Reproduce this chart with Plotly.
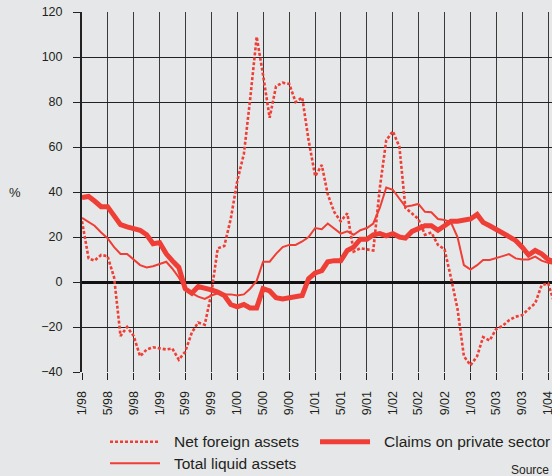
import pandas as pd
import plotly.graph_objects as go

# Monthly data, January 1998 onwards (%)
months = pd.date_range("1998-01-01", periods=74, freq="MS")

net_foreign_assets = [
    27, 10.5, 9.5, 12, 11.5, 2, -24, -20, -24, -33,
    -30, -29, -29.5, -30, -29.5, -34.5, -31, -22.5, -18, -19,
    -5, 15, 16, 28, 45, 57, 81, 109, 92, 73,
    87, 88.6, 88, 80, 82, 63, 47, 52, 39, 31,
    27, 30.5, 13.5, 15, 14.5, 14, 42, 63, 67, 60,
    33, 30.5, 28, 21, 22, 16.5, 14.5, 2, -12, -33,
    -37, -33, -24.5, -26, -21, -19.5, -17, -15.4, -14.7, -12,
    -9.5, -1.5, -0.6, -10,
]

total_liquid_assets = [
    28.5, 26.5, 25, 22, 19.5, 15.5, 12.5, 12.5, 10, 7.5,
    6.5, 7, 8, 9, 6, 2, -3, -5, -6.5, -7.5,
    -6, -5, -5.5, -5.5, -6, -5.5, -3, 0.5, 9, 9,
    12.5, 15.5, 16.5, 16.5, 18, 20, 24, 23.5, 26, 23.5,
    21.5, 22.5, 21, 23, 24, 26, 33, 42, 41, 37,
    33.5, 34, 34.7, 31.2, 31, 28, 27.6, 26.5, 20, 7.5,
    5.5, 7.5, 9.8, 9.8, 10.5, 11.5, 12.4, 10.5, 10, 10,
    11.3, 9.5, 8.5, 8,
]

claims_private_sector = [
    37.5, 38, 36, 33.5, 33.5, 29, 25.5, 24.5, 24, 23,
    21, 17, 17.5, 12.5, 9.5, 6.5, -3, -5, -2, -2.5,
    -3.5, -4.5, -6, -10, -11, -10, -11.5, -11.5, -3, -4,
    -7, -7.5, -7, -7, -6, 1.5, 4, 5, 9, 9.5,
    9.5, 14, 15.5, 19, 19, 21, 21.5, 20.5, 21.5, 20,
    19.5, 22.5, 24, 25, 25, 23, 25, 27, 27, 27.5,
    28, 30, 26.5, 25, 23.5, 22, 20, 18.5, 15.5, 12,
    14, 12.5, 10, 9,
]

tick_dates = pd.date_range("1998-01-01", "2004-01-01", freq="4MS")
tick_labels = [f"{d.month}/{d.strftime('%y')}" for d in tick_dates]
y_ticks = [-40, -20, 0, 20, 40, 60, 80, 100, 120]
y_tick_labels = ["\u221240", "\u221220", "0", "20", "40", "60", "80", "100", "120"]

RED = "#ef3e36"
BG = "#e6e7e8"
TXT = "#231f20"
FONT = "Liberation Sans, Arial, Helvetica, sans-serif"

fig = go.Figure()
fig.add_trace(go.Scatter(x=months, y=net_foreign_assets, mode="lines",
                         name="Net foreign assets",
                         line=dict(color=RED, width=2.6, dash="3px,2px")))
fig.add_trace(go.Scatter(x=months, y=total_liquid_assets, mode="lines",
                         name="Total liquid assets",
                         line=dict(color=RED, width=2)))
fig.add_trace(go.Scatter(x=months, y=claims_private_sector, mode="lines",
                         name="Claims on private sector",
                         line=dict(color=RED, width=5)))

fig.update_layout(
    width=552, height=476,
    margin=dict(l=82, r=0, t=12, b=104),
    paper_bgcolor=BG, plot_bgcolor=BG,
    showlegend=False,
    font=dict(family=FONT, size=12.5, color=TXT),
)
fig.update_xaxes(
    range=["1998-01-01", "2004-01-19"],
    tickmode="array", tickvals=tick_dates, ticktext=tick_labels,
    tickangle=-90, ticks="outside", ticklen=7, tickcolor="#222",
    showgrid=True, gridcolor="#3a3a3a", gridwidth=1,
    showline=False, zeroline=False,
    tickfont=dict(size=12.5, color=TXT),
    ticklabelstandoff=6,
    ticklabeloverflow="allow",
    automargin=False,
)
fig.update_yaxes(
    range=[-40, 120],
    tickmode="array", tickvals=y_ticks, ticktext=y_tick_labels,
    ticks="outside", ticklen=7, tickcolor="#222",
    showgrid=True, gridcolor="#222", gridwidth=1,
    showline=True, linecolor="#222", linewidth=2,
    zeroline=True, zerolinecolor="#111", zerolinewidth=2.5,
    tickfont=dict(size=12.5, color=TXT),
    ticklabelstandoff=8,
    automargin=False,
)

# Manual legend
fig.add_shape(type="line", xref="paper", yref="paper", x0=0.0596, x1=0.166,
              y0=-0.1936, y1=-0.1936, line=dict(color=RED, width=2.6, dash="3px,2px"))
fig.add_shape(type="line", xref="paper", yref="paper", x0=0.0596, x1=0.166,
              y0=-0.2536, y1=-0.2536, line=dict(color=RED, width=2))
fig.add_shape(type="line", xref="paper", yref="paper", x0=0.5064, x1=0.6128,
              y0=-0.1936, y1=-0.1936, line=dict(color=RED, width=5))
for txt, x, y in [("Net foreign assets", 0.1909, -0.1936),
                  ("Total liquid assets", 0.1909, -0.2536),
                  ("Claims on private sector", 0.6377, -0.1936)]:
    fig.add_annotation(text=txt, xref="paper", yref="paper", x=x, y=y,
                       xanchor="left", yanchor="middle", showarrow=False,
                       font=dict(size=15.5, color=TXT))

fig.add_annotation(text="%", xref="paper", yref="paper", x=-0.1426, y=0.498,
                   xanchor="center", yanchor="middle", showarrow=False,
                   font=dict(size=13, color=TXT))
fig.add_annotation(text="Source", xref="paper", yref="paper", x=0.9085, y=-0.272,
                   xanchor="left", yanchor="middle", showarrow=False,
                   font=dict(size=12, color=TXT))

fig.write_html(
    "out.html",
    config={"displayModeBar": False},
    post_script="document.body.style.margin='0px';"
                "document.body.style.overflow='hidden';"
                "document.body.style.background='" + BG + "';",
)
